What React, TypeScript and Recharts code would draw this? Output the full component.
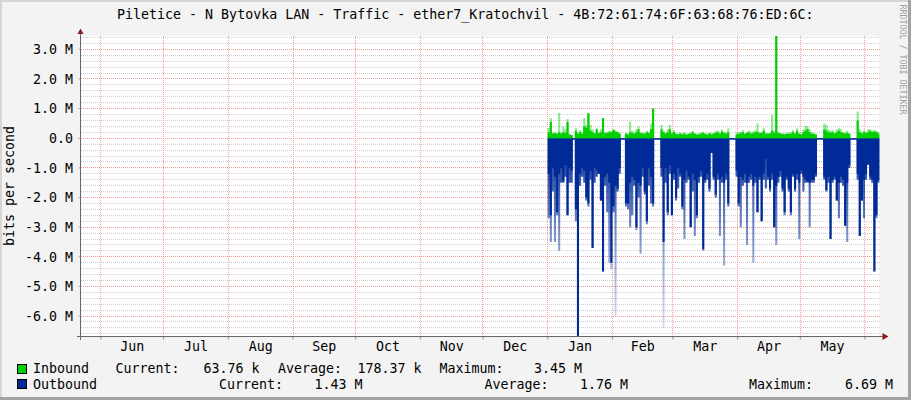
import React from 'react';
import { ComposedChart, Area, XAxis, YAxis, CartesianGrid } from 'recharts';

// ---- axis / category data ----
const monthNames = ['Jun', 'Jul', 'Aug', 'Sep', 'Oct', 'Nov', 'Dec', 'Jan', 'Feb', 'Mar', 'Apr', 'May'];
// month boundaries, days since 1 Jun (leap-year Feb)
const monthStarts = [0, 30, 61, 92, 122, 153, 183, 214, 245, 274, 305, 335, 366];
const xDomain: [number, number] = [-9.82, 372.95];
const yDomain: [number, number] = [-6.69, 3.45];
const yMajorTicks = [3, 2, 1, 0, -1, -2, -3, -4, -5, -6];
const dataStartDay = 214; // 1 Jan

// ---- series (M bits/s), one value per day from 1 Jan ----
const inCore = [
  0.2, 0.55, 0.15, 0.17, 0.14, 0.2, 0.15, 0.2, 0.18, 0.55,
  0.12, 0.1, 0, 0.25, 0.15, 0.2, 0.15, 0.4, 0.35, 0.84,
  0.25, 0.2, 0.15, 0.3, 0.17, 0.2, 0.68, 0.17, 0.17, 0.2,
  0.2, 0.28, 0.22, 0.2, 0.15, 0, 0, 0.15, 0.12, 0.2,
  0.17, 0.15, 0.2, 0.3, 0.17, 0.15, 0.15, 0.2, 0.17, 0.3,
  1.0, 0, 0, 0, 0.3, 0.2, 0.15, 0.2, 0.3, 0.15,
  0.2, 0.14, 0.12, 0.15, 0.13, 0.16, 0.12, 0.14, 0.15, 0.2,
  0.14, 0.12, 0.13, 0.15, 0.18, 0.14, 0.12, 0.16, 0.13, 0.15,
  0.18, 0.2, 0.15, 0.22, 0.17, 0.15, 0.2, 0, 0, 0,
  0.12, 0.15, 0.17, 0.2, 0.14, 0.18, 0.2, 0.15, 0.17, 0.2,
  0.22, 0.16, 0.18, 0.25, 0.15, 0.14, 0.16, 0.25, 0.18, 3.45,
  0.17, 0.15, 0.14, 0.13, 0.15, 0.14, 0.15, 0.2, 0.15, 0.25,
  0.14, 0.12, 0.2, 0.25, 0.3, 0.2, 0.15, 0.14, 0.12, 0,
  0, 0, 0.3, 0.25, 0.2, 0.18, 0.2, 0.15, 0.2, 0.25,
  0.2, 0.17, 0.15, 0.18, 0.14, 0, 0, 0, 0.6, 0.2,
  0.15, 0.2, 0.17, 0.2, 0.25, 0.2, 0.22, 0.2, 0.15,
];
const inPeak = [
  0.35, 0.68, 0.2, 0.2, 0.18, 0.85, 0.2, 0.4, 0.3, 0.65,
  0.15, 0.12, 0, 0.34, 0.2, 0.28, 0.2, 0.68, 0.45, 0.84,
  0.45, 0.3, 0.2, 0.34, 0.2, 0.3, 0.68, 0.2, 0.22, 0.25,
  0.24, 0.3, 0.28, 0.22, 0.18, 0, 0, 0.18, 0.17, 0.56,
  0.25, 0.2, 0.3, 0.4, 0.2, 0.2, 0.18, 0.25, 0.2, 0.5,
  1.0, 0, 0, 0, 0.45, 0.25, 0.2, 0.3, 0.45, 0.2,
  0.28, 0.18, 0.16, 0.2, 0.17, 0.2, 0.15, 0.18, 0.2, 0.25,
  0.18, 0.16, 0.17, 0.2, 0.22, 0.18, 0.15, 0.2, 0.17, 0.19,
  0.25, 0.26, 0.2, 0.3, 0.22, 0.2, 0.34, 0, 0, 0,
  0.2, 0.2, 0.22, 0.28, 0.18, 0.22, 0.26, 0.2, 0.24, 0.28,
  0.5, 0.2, 0.22, 0.34, 0.2, 0.18, 0.2, 0.79, 0.25, 3.45,
  0.22, 0.18, 0.17, 0.16, 0.18, 0.2, 0.2, 0.28, 0.2, 0.34,
  0.18, 0.15, 0.3, 0.42, 0.4, 0.3, 0.2, 0.18, 0.15, 0,
  0, 0, 0.5, 0.45, 0.3, 0.25, 0.28, 0.2, 0.3, 0.34,
  0.3, 0.22, 0.2, 0.25, 0.18, 0, 0, 0, 0.9, 0.3,
  0.2, 0.26, 0.22, 0.3, 0.3, 0.25, 0.28, 0.25, 0.2,
];
const outCore = [
  1.2, 2.6, 1.0, 1.3, 2.5, 1.2, 1.0, 1.45, 0.9, 2.6,
  1.0, 1.1, 0.04, 2.4, 6.69, 1.2, 1.0, 1.1, 2.0, 2.2,
  1.1, 3.7, 1.0, 1.1, 1.2, 2.1, 4.5, 1.3, 1.2, 1.5,
  4.2, 2.3, 1.6, 1.7, 1.0, 0.04, 0.04, 2.2, 2.2, 1.5,
  1.3, 1.4, 3.0, 1.5, 1.6, 1.0, 1.8, 2.8, 1.0, 1.3,
  2.2, 0.04, 0.04, 0.04, 1.0, 3.5, 1.0, 2.5, 0.9, 2.6,
  1.2, 2.0, 1.0, 1.2, 2.3, 1.4, 1.1, 1.3, 3.0, 1.2,
  1.4, 2.6, 1.3, 1.1, 3.75, 1.4, 1.2, 1.7, 0.5, 1.3,
  1.9, 1.2, 1.4, 1.3, 1.5, 1.2, 2.2, 0.04, 0.04, 0.04,
  1.1, 2.2, 1.3, 1.4, 1.2, 1.5, 1.3, 1.2, 1.6, 1.3,
  2.5, 1.3, 2.8, 1.2, 0.7, 1.3, 1.7, 1.2, 3.0, 1.6,
  1.3, 1.1, 1.7, 2.5, 1.3, 1.7, 2.5, 1.2, 1.7, 1.2,
  1.5, 1.1, 1.3, 1.4, 1.45, 1.5, 1.4, 1.4, 1.2, 0.04,
  0.04, 0.04, 1.3, 1.75, 1.3, 3.4, 1.4, 1.3, 2.1, 1.5,
  1.3, 1.4, 2.95, 1.5, 0.9, 0.04, 0.04, 0.04, 1.2, 3.3,
  2.1, 1.4, 1.2, 0.85, 1.3, 1.4, 4.5, 2.6, 1.43,
];
const outPeak = [
  2.7, 3.5, 1.8, 3.5, 2.6, 3.8, 1.5, 1.5, 1.3, 2.6,
  1.5, 1.5, 0.04, 2.8, 6.69, 1.6, 1.3, 1.5, 2.1, 2.3,
  1.4, 3.7, 1.5, 1.3, 1.2, 2.1, 4.5, 1.6, 2.5, 4.2,
  4.4, 2.5, 6.0, 1.8, 1.2, 0.04, 0.04, 2.3, 2.4, 3.0,
  2.6, 1.6, 3.1, 2.0, 3.9, 1.3, 1.9, 2.9, 1.6, 2.2,
  2.3, 0.04, 0.04, 0.04, 1.3, 6.4, 1.5, 2.6, 1.2, 2.6,
  1.4, 2.1, 1.7, 1.3, 2.4, 3.4, 1.5, 1.4, 3.0, 1.8,
  3.3, 2.7, 1.5, 1.3, 3.8, 1.5, 1.4, 1.8, 0.5, 1.4,
  2.0, 1.4, 3.3, 1.5, 4.3, 1.4, 2.3, 0.04, 0.04, 0.04,
  1.3, 2.3, 3.0, 1.6, 1.5, 3.6, 1.5, 1.4, 4.2, 1.5,
  2.5, 1.4, 2.8, 1.4, 1.7, 1.4, 1.8, 1.4, 3.0, 3.6,
  1.5, 1.3, 1.8, 2.6, 1.4, 1.8, 2.6, 1.3, 1.8, 1.4,
  3.4, 1.2, 1.8, 1.5, 1.5, 3.0, 1.5, 1.5, 1.3, 0.04,
  0.04, 0.04, 1.4, 1.8, 1.5, 3.4, 1.5, 1.4, 2.1, 2.7,
  1.5, 1.6, 2.95, 3.5, 1.0, 0.04, 0.04, 0.04, 1.4, 3.3,
  2.1, 2.7, 1.4, 0.9, 1.4, 1.5, 4.5, 2.7, 1.5,
];

// ---- legend text ----
const legendInbound = [
  { text: 'Current:', x: 115.5 }, { text: '63.76 k', x: 203.5 },
  { text: 'Average:', x: 278 }, { text: '178.37 k', x: 357.5 },
  { text: 'Maximum:', x: 439.5 }, { text: '3.45 M', x: 534 },
];
const legendOutbound = [
  { text: 'Current:', x: 219 }, { text: '1.43 M', x: 314.5 },
  { text: 'Average:', x: 484.5 }, { text: '1.76 M', x: 580 },
  { text: 'Maximum:', x: 749 }, { text: '6.69 M', x: 845 },
];

const TITLE = 'Piletice - N Bytovka LAN - Traffic - ether7_Kratochvil - 4B:72:61:74:6F:63:68:76:ED:6C:';
const IN_COLOR = '#00CF00';
const OUT_COLOR = '#002A97';
const FONT = "'DejaVu Sans Mono', monospace";
const FS = 13.3;

// ---- derived tables ----
const rows: any[] = inCore.map((_, i) => ({
  t: dataStartDay + i,
  inCore: inCore[i],
  inPeak: inPeak[i],
  outCore: -outCore[i],
  outPeak: -outPeak[i],
}));
rows.push({ ...rows[rows.length - 1], t: rows[rows.length - 1].t + 1 });

const monthMids = monthStarts.slice(0, -1).map((s, i) => (s + monthStarts[i + 1]) / 2);
const midName = new Map<number, string>(monthMids.map((m, i) => [m, monthNames[i]]));
const xTicks = [...monthStarts, ...monthMids].sort((a, b) => a - b);

const minorY: number[] = [];
for (let k = -33; k <= 17; k++) {
  if (k % 5 !== 0) minorY.push(Math.round(k * 0.2 * 10) / 10);
}

const fmtY = (v: number) => (v === 0 ? '0.0' : `${v.toFixed(1)} M`);

const renderXTick = (props: any) => {
  const { x, y, payload } = props;
  const v = payload.value;
  if (monthStarts.includes(v)) {
    return <line x1={x} x2={x} y1={y} y2={y + 3} stroke="#909090" />;
  }
  return (
    <text x={x} y={y + 14} textAnchor="middle" fontFamily={FONT} fontSize={FS} fill="#000">
      {midName.get(v)}
    </text>
  );
};

export default function App() {
  return (
    <div style={{ position: 'absolute', left: 0, top: 0, width: 911, height: 400, background: '#f3f3f3', overflow: 'hidden' }}>
      <ComposedChart width={911} height={400} data={rows} margin={{ top: 36, right: 31.5, bottom: 33.5, left: 20.5 }}>
        <defs>
          <linearGradient id="outFade" x1="0" y1="0" x2="0" y2="1">
            <stop offset="0" stopColor={OUT_COLOR} stopOpacity={0.95} />
            <stop offset="0.25" stopColor={OUT_COLOR} stopOpacity={0.75} />
            <stop offset="0.6" stopColor={OUT_COLOR} stopOpacity={0.4} />
            <stop offset="1" stopColor={OUT_COLOR} stopOpacity={0.1} />
          </linearGradient>
        </defs>
        <CartesianGrid fill="#ffffff" stroke="#cfcfcf" strokeDasharray="1 1" vertical={false} horizontalValues={minorY} shapeRendering="crispEdges" />
        <CartesianGrid stroke="#f09a9a" strokeDasharray="1 1" horizontalValues={yMajorTicks} verticalValues={monthStarts} shapeRendering="crispEdges" />
        <XAxis
          type="number"
          dataKey="t"
          domain={xDomain}
          allowDataOverflow
          ticks={xTicks}
          interval={0}
          tick={renderXTick}
          tickLine={false}
          tickSize={0}
          tickMargin={0}
          height={30}
          axisLine={{ stroke: '#666666' }}
        />
        <YAxis
          type="number"
          domain={yDomain}
          allowDataOverflow
          ticks={yMajorTicks}
          interval={0}
          width={60}
          tickSize={2}
          tickMargin={5.5}
          tickLine={{ stroke: '#e89090' }}
          axisLine={{ stroke: '#666666' }}
          tick={{ fontFamily: FONT, fontSize: FS, fill: '#000' }}
          tickFormatter={fmtY}
        />
        <Area type="stepAfter" dataKey="outPeak" baseValue={0} stroke="none" fill="url(#outFade)" fillOpacity={1} isAnimationActive={false} dot={false} activeDot={false} />
        <Area type="stepAfter" dataKey="outCore" baseValue={0} stroke="none" fill={OUT_COLOR} fillOpacity={1} isAnimationActive={false} dot={false} activeDot={false} />
        <Area type="stepAfter" dataKey="inPeak" baseValue={0} stroke="none" fill={IN_COLOR} fillOpacity={0.45} isAnimationActive={false} dot={false} activeDot={false} />
        <Area type="stepAfter" dataKey="inCore" baseValue={0} stroke="none" fill={IN_COLOR} fillOpacity={1} isAnimationActive={false} dot={false} activeDot={false} />
      </ComposedChart>
      <svg width={911} height={400} style={{ position: 'absolute', left: 0, top: 0, pointerEvents: 'none' }}>
        {/* frame */}
        <rect x={0} y={0} width={911} height={2} fill="#d6d6d6" />
        <rect x={0} y={0} width={2} height={400} fill="#d6d6d6" />
        <rect x={0} y={397} width={911} height={3} fill="#a3a3a3" />
        <rect x={908} y={0} width={3} height={400} fill="#a3a3a3" />
        {/* title */}
        <text x={465.3} y={19} textAnchor="middle" fontFamily={FONT} fontSize={FS} fill="#000">{TITLE}</text>
        {/* y label */}
        <text transform="translate(13.5,186) rotate(-90)" textAnchor="middle" fontFamily={FONT} fontSize={FS} fill="#000">bits per second</text>
        {/* axis extensions & arrows */}
        <line x1={80.5} y1={33} x2={80.5} y2={36.5} stroke="#666666" />
        <line x1={80.5} y1={336.5} x2={80.5} y2={340} stroke="#666666" />
        <line x1={77} y1={336.5} x2={883} y2={336.5} stroke="#666666" />
        <polygon points="77.5,34 83.5,34 80.5,28.5" fill="#8a1c1c" />
        <polygon points="882.5,333 882.5,340 888.5,336.5" fill="#8a1c1c" />
        {/* legend */}
        <rect x={17.5} y={364.5} width={9} height={9} fill={IN_COLOR} stroke="#000" />
        <rect x={17.5} y={379.5} width={9} height={9} fill={OUT_COLOR} stroke="#000" />
        <text x={33} y={373.3} fontFamily={FONT} fontSize={FS} fill="#000">Inbound</text>
        <text x={33} y={388.7} fontFamily={FONT} fontSize={FS} fill="#000">Outbound</text>
        {legendInbound.map((l, i) => (
          <text key={'i' + i} x={l.x} y={373.3} fontFamily={FONT} fontSize={FS} fill="#000">{l.text}</text>
        ))}
        {legendOutbound.map((l, i) => (
          <text key={'o' + i} x={l.x} y={388.7} fontFamily={FONT} fontSize={FS} fill="#000">{l.text}</text>
        ))}
        {/* watermark */}
        <text transform="translate(899.5,4.5) rotate(90)" fontFamily={FONT} fontSize={8.3} fill="#a0a0a0">RRDTOOL / TOBI OETIKER</text>
      </svg>
    </div>
  );
}
